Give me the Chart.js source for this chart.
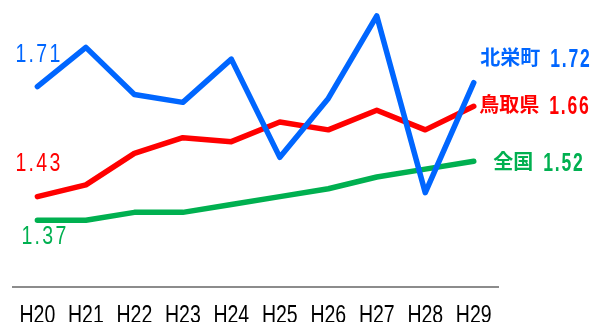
<!DOCTYPE html>
<html>
<head>
<meta charset="utf-8">
<script src="https://cdn.jsdelivr.net/npm/chart.js@4/dist/chart.umd.min.js"></script>
<style>
  html, body { margin: 0; padding: 0; background: #ffffff; }
  #wrap { width: 595px; height: 322px; position: relative; }
</style>
</head>
<body>
<div id="wrap"><canvas id="c" width="595" height="322"></canvas></div>
<script>
const categories = ['H20', 'H21', 'H22', 'H23', 'H24', 'H25', 'H26', 'H27', 'H28', 'H29'];
const seriesNames = ['北栄町', '鳥取県', '全国'];
const hokueiValues = [1.71, 1.81, 1.69, 1.67, 1.78, 1.53, 1.68, 1.89, 1.44, 1.72];
const tottoriValues = [1.43, 1.46, 1.54, 1.58, 1.57, 1.62, 1.60, 1.65, 1.60, 1.66];
const zenkokuValues = [1.37, 1.37, 1.39, 1.39, 1.41, 1.43, 1.45, 1.48, 1.50, 1.52];
const yRange = [1.2, 1.9];

const BLUE = '#0066FF';
const RED = '#FF0000';
const GREEN = '#00B050';
const NUM_FONT = '"Liberation Sans", Arial, sans-serif';
const CJK_FONT = '"Noto Sans CJK JP", "Noto Sans CJK SC", sans-serif';
const SQUEEZE = 0.78;   // horizontal condensing of the narrow gothic digits

// label placement relative to the data point (style only)
const labelStyle = [
  { color: BLUE,  start: { dx: -22, dy: -24.5 }, end: { dx: 6.5, dy: -15.5 } },
  { color: RED,   start: { dx: -22, dy: -26 },   end: { dx: 5.5, dy: 7.5 } },
  { color: GREEN, start: { dx: -16, dy: 24 },    end: { dx: 19.5, dy: 10 } }
];

function drawCondensed(ctx, text, x, y, sx, spacing) {
  ctx.save();
  ctx.translate(x, y);
  ctx.scale(sx, 1);
  let cx = 0;
  for (const ch of text) {
    ctx.fillText(ch, cx, 0);
    cx += ctx.measureText(ch).width + spacing;
  }
  ctx.restore();
  return (cx - spacing) * sx;
}

// category axis whose tick labels are drawn in a condensed face
class NarrowCategoryScale extends Chart.CategoryScale {
  drawLabels(chartArea) {
    const ctx = this.ctx;
    const origRotate = ctx.rotate;
    ctx.rotate = function (a) { origRotate.call(this, a); this.scale(SQUEEZE, 1); };
    try { super.drawLabels(chartArea); } finally { ctx.rotate = origRotate; }
  }
}
NarrowCategoryScale.id = 'narrowCategory';
NarrowCategoryScale.defaults = Chart.CategoryScale.defaults;
Chart.register(NarrowCategoryScale);

const labelPlugin = {
  id: 'endLabels',
  afterDatasetsDraw(chart) {
    const ctx = chart.ctx;
    const xs = chart.scales.x, ys = chart.scales.y;
    ctx.save();
    ctx.textBaseline = 'alphabetic';
    ctx.textAlign = 'left';
    chart.data.datasets.forEach((ds, i) => {
      const st = labelStyle[i];
      const first = ds.data[0];
      const last = ds.data[ds.data.length - 1];
      const x0 = xs.getPixelForValue(0), y0 = ys.getPixelForValue(first);
      const x1 = xs.getPixelForValue(ds.data.length - 1), y1 = ys.getPixelForValue(last);
      ctx.fillStyle = st.color;
      // start label (value only)
      ctx.font = '25px ' + NUM_FONT;
      drawCondensed(ctx, first.toFixed(2), x0 + st.start.dx, y0 + st.start.dy, SQUEEZE, 3);
      // end label: name + value
      const bx = x1 + st.end.dx, by = y1 + st.end.dy;
      ctx.font = 'bold 20px ' + CJK_FONT;
      const name = seriesNames[i];
      ctx.fillText(name, bx, by - 2);
      const w = ctx.measureText(name).width;
      ctx.font = 'bold 25px ' + NUM_FONT;
      drawCondensed(ctx, last.toFixed(2), bx + w + 10, by, SQUEEZE * 0.9, 2.5);
    });
    ctx.restore();
  }
};

new Chart(document.getElementById('c'), {
  type: 'line',
  data: {
    labels: categories,
    datasets: [
      { label: seriesNames[0], data: hokueiValues, borderColor: BLUE },
      { label: seriesNames[1], data: tottoriValues, borderColor: RED },
      { label: seriesNames[2], data: zenkokuValues, borderColor: GREEN }
    ].map(d => Object.assign(d, {
      borderWidth: 5.5,
      pointRadius: 0,
      pointHoverRadius: 0,
      fill: false,
      tension: 0,
      borderCapStyle: 'round',
      borderJoinStyle: 'round'
    }))
  },
  options: {
    responsive: false,
    animation: false,
    events: [],
    clip: false,
    layout: { padding: { left: 9, right: 97, top: 12, bottom: 0 } },
    plugins: { legend: { display: false }, tooltip: { enabled: false } },
    scales: {
      x: {
        type: 'narrowCategory',
        offset: true,
        grid: { display: false, drawTicks: false },
        border: { display: true, color: '#8c8c8c', width: 2 },
        ticks: {
          color: '#000000',
          padding: 14,
          font: { family: NUM_FONT, size: 25 },
          maxRotation: 0,
          minRotation: 0,
          autoSkip: false
        },
        afterFit(scale) { scale.height = 35; }
      },
      y: {
        display: false,
        min: yRange[0],
        max: yRange[1]
      }
    }
  },
  plugins: [labelPlugin]
});
</script>
</body>
</html>
